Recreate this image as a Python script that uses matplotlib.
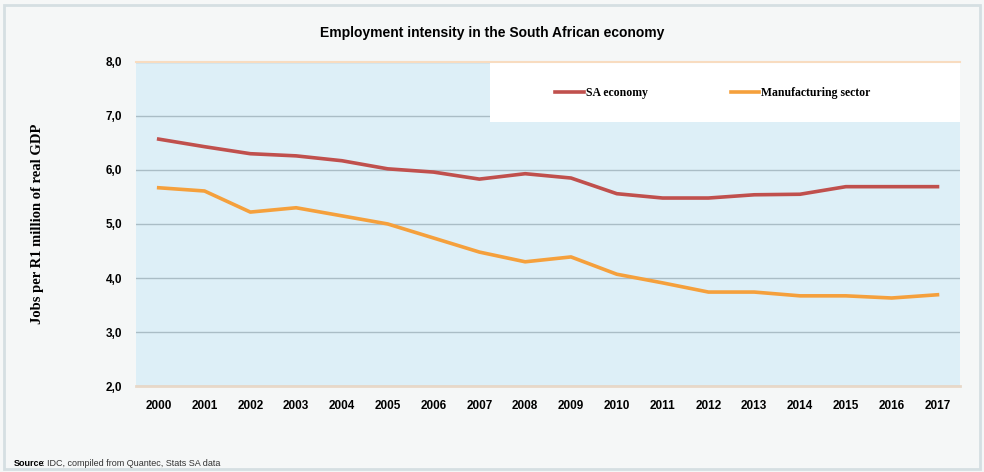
import matplotlib
matplotlib.use("Agg")
import matplotlib.pyplot as plt
from matplotlib.patches import Rectangle

years = list(range(2000, 2018))
sa_economy = [6.57, 6.43, 6.30, 6.26, 6.17, 6.02, 5.96, 5.83, 5.93, 5.85,
              5.56, 5.48, 5.48, 5.54, 5.55, 5.69, 5.69, 5.69]
manufacturing = [5.67, 5.61, 5.22, 5.30, 5.15, 5.00, 4.74, 4.48, 4.30, 4.39,
                 4.07, 3.91, 3.74, 3.74, 3.67, 3.67, 3.63, 3.69]
y_ticks = [2.0, 3.0, 4.0, 5.0, 6.0, 7.0, 8.0]
y_tick_labels = ["2,0", "3,0", "4,0", "5,0", "6,0", "7,0", "8,0"]

fig = plt.figure(figsize=(9.84, 4.72), dpi=100, facecolor="#f5f7f7")
# outer frame
fig.patches.append(Rectangle((0.004, 0.006), 0.992, 0.984, transform=fig.transFigure,
                             fill=False, edgecolor="#d5dfe2", linewidth=2))

ax = fig.add_axes([0.138, 0.182, 0.838, 0.687])
ax.set_facecolor("#ddeff7")

# white legend panel
ax.add_patch(Rectangle((0.43, 0.815), 0.57, 0.185, transform=ax.transAxes,
                       facecolor="white", edgecolor="none", zorder=1))

ax.plot(years, sa_economy, color="#c0504d", linewidth=2.6, label="SA economy", zorder=3)
ax.plot(years, manufacturing, color="#f5a03c", linewidth=2.6, label="Manufacturing sector", zorder=3)

ax.set_xlim(1999.5, 2017.5)
ax.set_ylim(2.0, 8.0)
ax.set_yticks(y_ticks)
ax.set_yticklabels(y_tick_labels)
ax.set_xticks(years)
ax.set_xticklabels([str(y) for y in years])
ax.tick_params(length=0, pad=10)
for lab in ax.get_xticklabels() + ax.get_yticklabels():
    lab.set_fontweight("bold")
    lab.set_fontsize(8.5)
    lab.set_family("Liberation Sans")
ax.yaxis.grid(True, color="#aabdc6", linewidth=1)
ax.set_axisbelow(True)
for s in ["left", "right"]:
    ax.spines[s].set_visible(False)
ax.spines["bottom"].set_color("#e8d8c8")
ax.spines["bottom"].set_linewidth(2)
ax.spines["top"].set_color("#f8dcc0")
ax.spines["top"].set_linewidth(1.5)

ax.set_ylabel("Jobs per R1 million of real GDP", family="Liberation Serif",
              fontweight="bold", fontsize=10.5, labelpad=44)

leg = ax.legend(loc="center", bbox_to_anchor=(0.70, 0.905), ncol=2, frameon=False,
                columnspacing=7.0, handlelength=2.4, handletextpad=0.2,
                prop={"family": "Liberation Serif", "weight": "bold", "size": 8.5})
leg.set_zorder(4)

fig.text(0.5, 0.93, "Employment intensity in the South African economy",
         ha="center", va="center", fontsize=10, fontweight="bold", family="Liberation Sans")
src = fig.text(0.014, 0.019, "Source", ha="left", va="center", fontsize=6.5,
               fontweight="bold", family="Liberation Sans")
fig.text(0.043, 0.019, ": IDC, compiled from Quantec, Stats SA data", ha="left", va="center",
         fontsize=6.5, family="Liberation Sans", color="#333333")

fig.savefig("out.png", dpi=100, facecolor=fig.get_facecolor())
